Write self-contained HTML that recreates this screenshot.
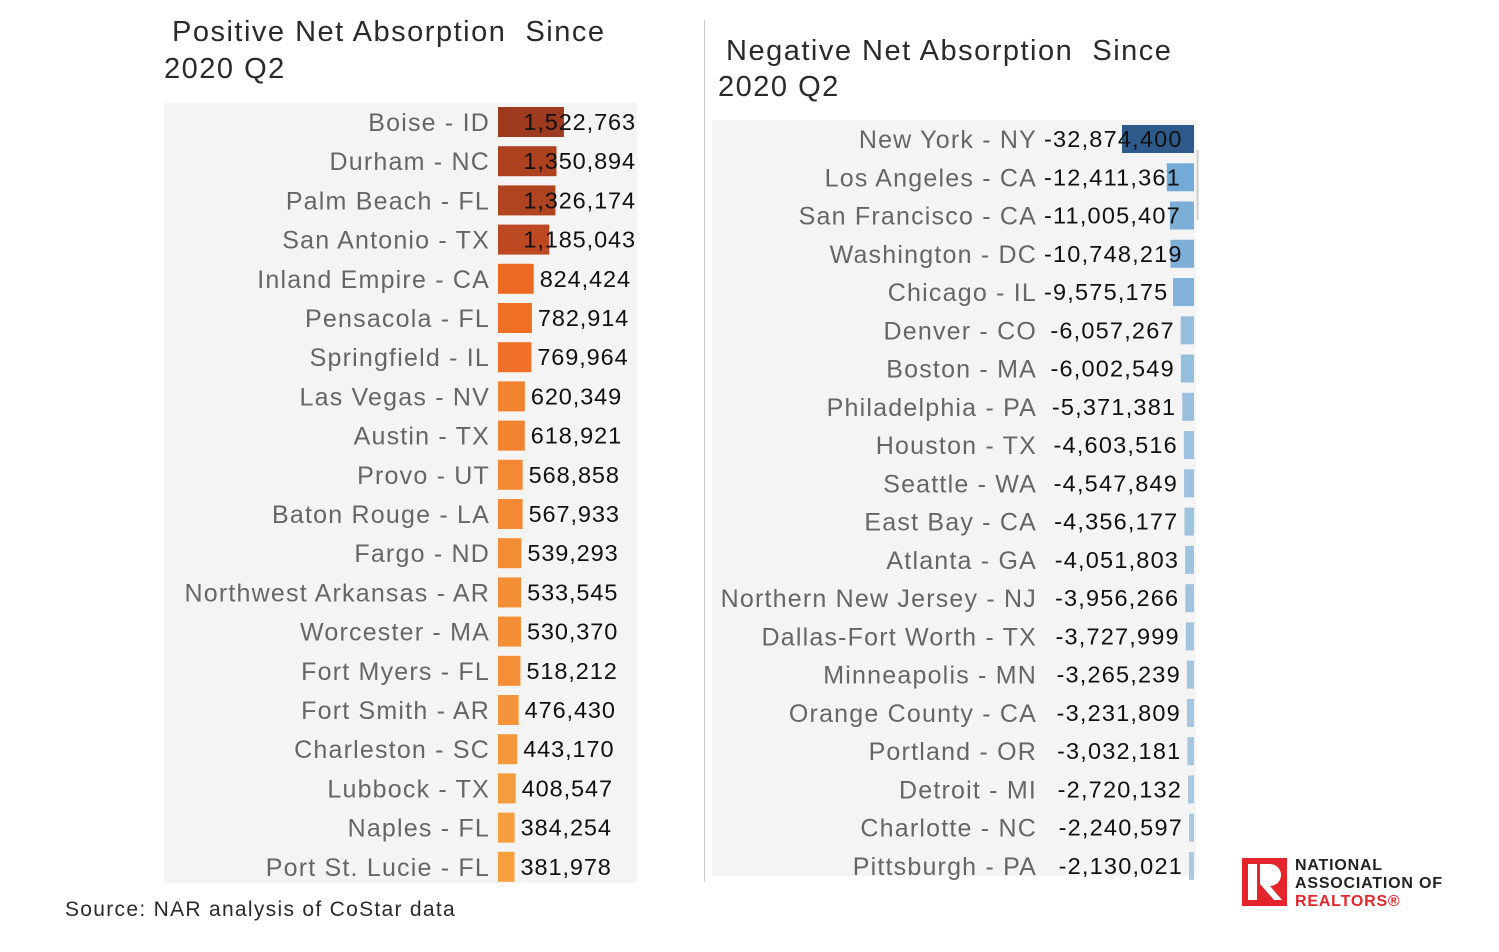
<!DOCTYPE html>
<html><head><meta charset="utf-8"><style>
body{margin:0;background:#fff;width:1499px;height:952px;overflow:hidden;font-family:"Liberation Sans",sans-serif;position:relative}
.t{position:absolute;font-size:29px;color:#2a2a2a;white-space:nowrap;letter-spacing:1.5px}
svg{position:absolute;left:0;top:0}
</style></head><body>
<div class="t" style="left:172px;top:16px">Positive Net Absorption&nbsp; Since</div>
<div class="t" style="left:164px;top:53px">2020 Q2</div>
<div class="t" style="left:726px;top:35px">Negative Net Absorption&nbsp; Since</div>
<div class="t" style="left:718px;top:71px">2020 Q2</div>
<div class="t" style="left:65px;top:898px;font-size:21px;letter-spacing:1.3px">Source: NAR analysis of CoStar data</div>
<svg width="1499" height="952" id="chart">
<rect x="164" y="103" width="473" height="780" fill="#f4f4f4"/>
<rect x="712" y="120" width="484" height="756" fill="#f4f4f4"/>
<line x1="704.5" y1="20" x2="704.5" y2="882" stroke="#ccc"/>
<line x1="1197.5" y1="150" x2="1197.5" y2="220" stroke="#ccc" stroke-width="2"/>
<g id="left"></g><g id="right"></g>
<g letter-spacing="0.8">
<rect x="1242" y="858" width="45" height="48" fill="#e4252b"/>
<rect x="1248" y="864" width="9" height="36" fill="#fff"/>
<path d="M1260 864 h10 a11 11 0 0 1 0 22 l12 14 h-8 l-14 -16 z" fill="#fff"/>
<text x="1295" y="870" font-size="16" font-weight="bold" fill="#222">NATIONAL</text>
<text x="1295" y="888" font-size="16" font-weight="bold" fill="#222">ASSOCIATION OF</text>
<text x="1295" y="906" font-size="16" font-weight="bold" fill="#e4252b">REALTORS®</text>
</g>
</svg>
<script>
const posNames=["Boise - ID","Durham - NC","Palm Beach - FL","San Antonio - TX","Inland Empire - CA","Pensacola - FL","Springfield - IL","Las Vegas - NV","Austin - TX","Provo - UT","Baton Rouge - LA","Fargo - ND","Northwest Arkansas - AR","Worcester - MA","Fort Myers - FL","Fort Smith - AR","Charleston - SC","Lubbock - TX","Naples - FL","Port St. Lucie - FL"];
const posValues=[1522763,1350894,1326174,1185043,824424,782914,769964,620349,618921,568858,567933,539293,533545,530370,518212,476430,443170,408547,384254,381978];
const negNames=["New York - NY","Los Angeles - CA","San Francisco - CA","Washington - DC","Chicago - IL","Denver - CO","Boston - MA","Philadelphia - PA","Houston - TX","Seattle - WA","East Bay - CA","Atlanta - GA","Northern New Jersey - NJ","Dallas-Fort Worth - TX","Minneapolis - MN","Orange County - CA","Portland - OR","Detroit - MI","Charlotte - NC","Pittsburgh - PA"];
const negValues=[-32874400,-12411361,-11005407,-10748219,-9575175,-6057267,-6002549,-5371381,-4603516,-4547849,-4356177,-4051803,-3956266,-3727999,-3265239,-3231809,-3032181,-2720132,-2240597,-2130021];
const NS="http://www.w3.org/2000/svg";
const fmt=v=>v.toLocaleString("en-US");
function mk(tag,a,p){const e=document.createElementNS(NS,tag);for(const k in a)e.setAttribute(k,a[k]);p.appendChild(e);return e;}
function posColor(v){if(v>1e6){const t=(v-1.1e6)/0.45e6;return `rgb(${Math.round(196-t*40)},${Math.round(76-t*18)},${Math.round(34-t*4)})`;}const t=(v-380000)/450000;return `rgb(${Math.round(246-t*8)},${Math.round(160-t*55)},${Math.round(64-t*30)})`;}
function negColor(v){if(v<-2e7)return "#2d5a8a";const t=Math.min(1,(-v-2e6)/10.5e6);return `rgb(${Math.round(170-t*54)},${Math.round(202-t*32)},${Math.round(225-t*10)})`;}
const L=document.getElementById("left"),R=document.getElementById("right");
const xPos=v=>498+v*43.3e-6, yPos=i=>122+i*39.2;
posNames.forEach((n,i)=>{const y=yPos(i),v=posValues[i],x2=xPos(v);
 const r=mk("rect",{x:498,y:y-15,width:x2-498,height:30,fill:posColor(v)},L);
 
 
 const l=mk("text",{x:490,y:y+9,"text-anchor":"end","font-size":25,fill:"#666","letter-spacing":1.2},L);l.textContent=n;
 
 
 const t=mk("text",{x:0,y:y+8,"font-size":23.5,fill:"#111","letter-spacing":0.9},L);t.textContent=fmt(v);
 
 
 const w=t.getComputedTextLength();t.setAttribute("x",Math.min(x2+6,636-w));});
const xNeg=v=>1194+v*2.19e-6, yNeg=i=>139+i*38.26;
negNames.forEach((n,i)=>{const y=yNeg(i),v=negValues[i],x1=Math.min(xNeg(v),1189);
 const r=mk("rect",{x:x1,y:y-14,width:1194-x1,height:28,fill:negColor(v)},R);
 
 
 const l=mk("text",{x:1037,y:y+9,"text-anchor":"end","font-size":25,fill:"#666","letter-spacing":1.2},R);l.textContent=n;
 
 
 const t=mk("text",{x:0,y:y+8,"font-size":23.5,fill:"#111","letter-spacing":1.2},R);t.textContent=fmt(v);
 
 
 const w=t.getComputedTextLength();t.setAttribute("x",Math.max(x1-6-w,1044));});
</script>
</body></html>
